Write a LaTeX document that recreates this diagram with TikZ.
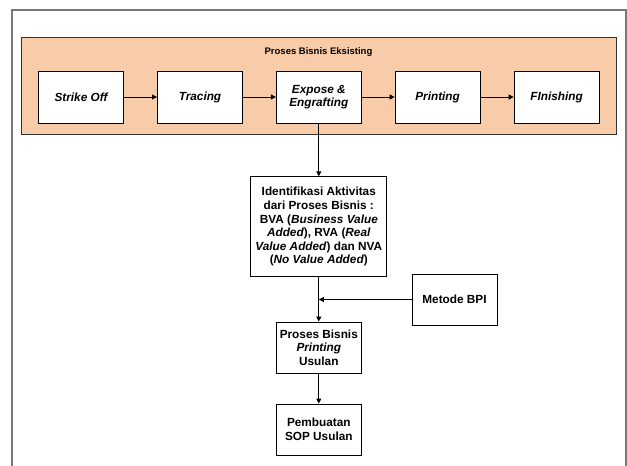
\documentclass[tikz,border=0pt]{standalone}
\usepackage{fontspec}
\setmainfont{Liberation Sans}
\usetikzlibrary{arrows.meta}
\definecolor{peach}{RGB}{248,204,168}
\definecolor{framegray}{RGB}{120,120,120}
\tikzset{
  procbox/.style={draw=black, line width=0.9pt, fill=white, minimum width=85pt, minimum height=52pt,
    inner sep=2pt, align=center, font=\fontsize{11.8}{13.6}\selectfont\bfseries\itshape},
  flowbox/.style={draw=black, line width=0.9pt, fill=white, inner sep=2pt, align=center,
    font=\fontsize{11.8}{13.6}\selectfont\bfseries},
  conn/.style={line width=0.9pt, -{Triangle[length=5pt,width=5pt]}},
  plain/.style={line width=0.9pt}
}
\begin{document}
\begin{tikzpicture}[x=1pt,y=-1pt]
\useasboundingbox (0,0) rectangle (627,466);
\draw[framegray, line width=1.5pt] (12,466) -- (12,10) -- (626,10) -- (626,466);
\node[draw=black!80, line width=0.9pt, fill=peach, minimum width=595pt, minimum height=97pt, inner sep=0pt] (grp) at (318.5,85.5) {};
\node[font=\fontsize{9.5}{11}\selectfont\bfseries] (title) at (318.5,52) {Proses Bisnis Eksisting};
\node[procbox] (s1) at (81,97) {Strike Off};
\node[procbox] (s2) at (200,97) {Tracing};
\node[procbox] (s3) at (318.8,97) {Expose \&\\Engrafting};
\node[procbox] (s4) at (437.6,97) {Printing};
\node[procbox] (s5) at (556.6,97) {FInishing};
\draw[conn] (s1) -- (s2);
\draw[conn] (s2) -- (s3);
\draw[conn] (s3) -- (s4);
\draw[conn] (s4) -- (s5);
\node[flowbox, minimum width=136pt, minimum height=100pt] (ident) at (318.8,226.8)
  {Identifikasi Aktivitas\\dari Proses Bisnis :\\BVA (\textit{Business Value}\\\textit{Added}), RVA (\textit{Real}\\\textit{Value Added}) dan NVA\\(\textit{No Value Added})};
\node[flowbox, minimum width=85pt, minimum height=51pt] (bpi) at (454.5,299.5) {Metode BPI};
\node[flowbox, minimum width=85pt, minimum height=51pt] (usul) at (318.8,347.5) {Proses Bisnis\\\textit{Printing}\\Usulan};
\node[flowbox, minimum width=85pt, minimum height=51pt] (sop) at (318.8,429.5) {Pembuatan\\SOP Usulan};
\coordinate (join) at (ident.south |- bpi.west);
\draw[conn] (s3.south) -- (ident.north);
\draw[conn] (ident.south) -- (usul.north);
\draw[conn] (bpi.west) -- (join);
\draw[conn] (usul.south) -- (sop.north);
\end{tikzpicture}
\end{document}
